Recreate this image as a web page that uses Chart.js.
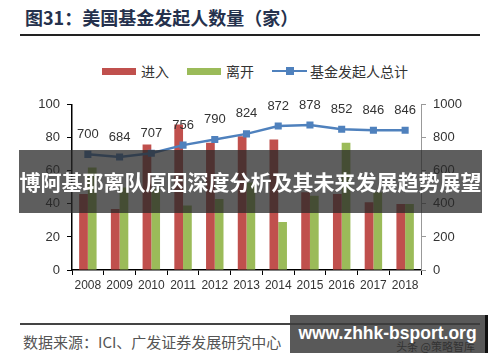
<!DOCTYPE html>
<html>
<head>
<meta charset="utf-8">
<script src="https://cdn.jsdelivr.net/npm/chart.js@4"></script>
<style>
    html, body {
        margin: 0;
        padding: 0;
        background: #ffffff;
    }
    .page {
        position: relative;
        width: 500px;
        height: 362px;
        overflow: hidden;
        font-family: "Noto Sans CJK SC", sans-serif;
    }
    .title {
        position: absolute;
        left: 25px;
        top: 5px;
        font-size: 18px;
        font-weight: 700;
        color: #25314d;
        line-height: 24px;
        white-space: nowrap;
    }
    .rule-top {
        position: absolute;
        left: 20px;
        top: 34px;
        width: 460px;
        height: 2px;
        background: #222;
    }
    .legend {
        position: absolute;
        top: 62px;
        left: 0;
        height: 18px;
        font-size: 14px;
        color: #333;
    }
    .legend span {
        position: absolute;
        top: 0;
        line-height: 18px;
        white-space: nowrap;
    }
    .swatch {
        position: absolute;
        top: 6px;
        width: 34px;
        height: 7px;
    }
    .legend-line {
        position: absolute;
        top: 8px;
        width: 35px;
        height: 2px;
        background: #4f81bd;
    }
    .legend-dot {
        position: absolute;
        top: 5px;
        width: 8px;
        height: 8px;
        background: #4f81bd;
    }
    #chartCanvas {
        position: absolute;
        left: 0;
        top: 90px;
    }
    .rule-bottom {
        position: absolute;
        left: 20px;
        top: 323px;
        width: 460px;
        height: 1.5px;
        background: #444;
    }
    .source {
        position: absolute;
        left: 23px;
        top: 332px;
        font-size: 15px;
        line-height: 20px;
        color: #555;
        white-space: nowrap;
    }
    .band {
        position: absolute;
        left: 19px;
        top: 150px;
        width: 463px;
        height: 63px;
        background: rgba(40, 40, 40, 0.75);
        color: #ffffff;
        font-size: 21px;
        font-weight: 700;
        line-height: 63px;
        text-align: center;
        white-space: nowrap;
    }
    .stamp {
        position: absolute;
        left: 290px;
        top: 315px;
        width: 195px;
        height: 38px;
        background: rgba(60, 60, 60, 0.85);
        border-right: 3px solid #111;
    }
    .stamp .site {
        position: absolute;
        left: 0;
        right: 0;
        top: 8px;
        text-align: center;
        font-family: "Liberation Sans", Arial, sans-serif;
        font-size: 17.5px;
        font-weight: 700;
        line-height: 20px;
        color: #ffffff;
    }
    .stamp .faint {
        position: absolute;
        right: 10px;
        top: 25px;
        font-size: 11px;
        line-height: 13px;
        color: #333;
    }
</style>
</head>
<body>
<div class="page">
    <div class="title">图31：美国基金发起人数量（家）</div>
    <div class="rule-top"></div>

    <div class="legend">
        <div class="swatch" style="left:102px;background:#c0504d"></div>
        <span style="left:141px">进入</span>
        <div class="swatch" style="left:187px;background:#9bbb59"></div>
        <span style="left:226px">离开</span>
        <div class="legend-line" style="left:272px"></div>
        <div class="legend-dot" style="left:286px"></div>
        <span style="left:310px">基金发起人总计</span>
    </div>

    <canvas id="chartCanvas" width="500" height="210"></canvas>

    <div class="rule-bottom"></div>
    <div class="source">数据来源：ICI、广发证券发展研究中心</div>

    <div class="band">博阿基耶离队原因深度分析及其未来发展趋势展望</div>
    <div class="stamp">
        <div class="faint">头条 @策略智库</div>
        <div class="site">www.zhhk-bsport.org</div>
    </div>
</div>

<script>
const years = ["2008", "2009", "2010", "2011", "2012", "2013", "2014", "2015", "2016", "2017", "2018"];
const entered = [46, 37, 76, 88, 77, 81, 79, 47, 46, 41, 40];
const exited = [62, 50, 49, 39, 43, 53, 29, 45, 77, 47, 40];
const sponsorTotal = [700, 684, 707, 756, 790, 824, 872, 878, 852, 846, 846];

const leftTicks = { min: 0, max: 100, step: 20 };
const rightTicks = { min: 0, max: 1000, step: 200 };

Chart.defaults.font.family = "'Liberation Sans', Arial, sans-serif";
Chart.defaults.color = "#333";

// numbers above the line points
const pointLabels = {
    id: "pointLabels",
    afterDatasetsDraw(chart) {
        const meta = chart.getDatasetMeta(2);
        const ctx = chart.ctx;
        ctx.save();
        ctx.font = "13px 'Liberation Sans', Arial, sans-serif";
        ctx.fillStyle = "#333";
        ctx.textAlign = "center";
        ctx.textBaseline = "middle";
        meta.data.forEach((point, i) => {
            ctx.fillText(String(sponsorTotal[i]), point.x, point.y - 20);
        });
        ctx.restore();
    }
};

new Chart(document.getElementById("chartCanvas"), {
    type: "bar",
    data: {
        labels: years,
        datasets: [
            {
                label: "进入",
                data: entered,
                backgroundColor: "#c0504d",
                yAxisID: "y",
                categoryPercentage: 0.55,
                barPercentage: 1,
                order: 2
            },
            {
                label: "离开",
                data: exited,
                backgroundColor: "#9bbb59",
                yAxisID: "y",
                categoryPercentage: 0.55,
                barPercentage: 1,
                order: 2
            },
            {
                type: "line",
                label: "基金发起人总计",
                data: sponsorTotal,
                yAxisID: "y1",
                borderColor: "#4f81bd",
                backgroundColor: "#4f81bd",
                borderWidth: 2.5,
                pointStyle: "rect",
                pointRadius: 5,
                pointBorderWidth: 0,
                order: 1
            }
        ]
    },
    options: {
        responsive: false,
        animation: false,
        layout: {
            padding: { top: 13, bottom: 0, left: 0, right: 0 }
        },
        plugins: {
            legend: { display: false },
            tooltip: { enabled: false }
        },
        scales: {
            x: {
                grid: {
                    offset: true,
                    drawOnChartArea: false,
                    tickLength: 5,
                    color: "#000"
                },
                border: { color: "#000", width: 1.5 },
                ticks: {
                    padding: 3,
                    color: "#333",
                    font: { size: 12 },
                    maxRotation: 0
                },
                afterFit: (scale) => {
                    scale.height = 30;
                }
            },
            y: {
                position: "left",
                min: leftTicks.min,
                max: leftTicks.max,
                grid: {
                    drawOnChartArea: false,
                    tickLength: 5,
                    color: "#000"
                },
                border: { color: "#000", width: 1.5 },
                ticks: {
                    stepSize: leftTicks.step,
                    padding: 7,
                    color: "#333",
                    font: { size: 13 },
                    callback: (value) => String(value)
                },
                afterFit: (scale) => {
                    scale.width = 72;
                }
            },
            y1: {
                position: "right",
                min: rightTicks.min,
                max: rightTicks.max,
                grid: {
                    drawOnChartArea: false,
                    tickLength: 5,
                    color: "#999"
                },
                border: { color: "#999", width: 1 },
                ticks: {
                    stepSize: rightTicks.step,
                    padding: 7,
                    color: "#333",
                    font: { size: 13 },
                    callback: (value) => String(value)
                },
                afterFit: (scale) => {
                    scale.width = 79;
                }
            }
        }
    },
    plugins: [pointLabels]
});
</script>
</body>
</html>
